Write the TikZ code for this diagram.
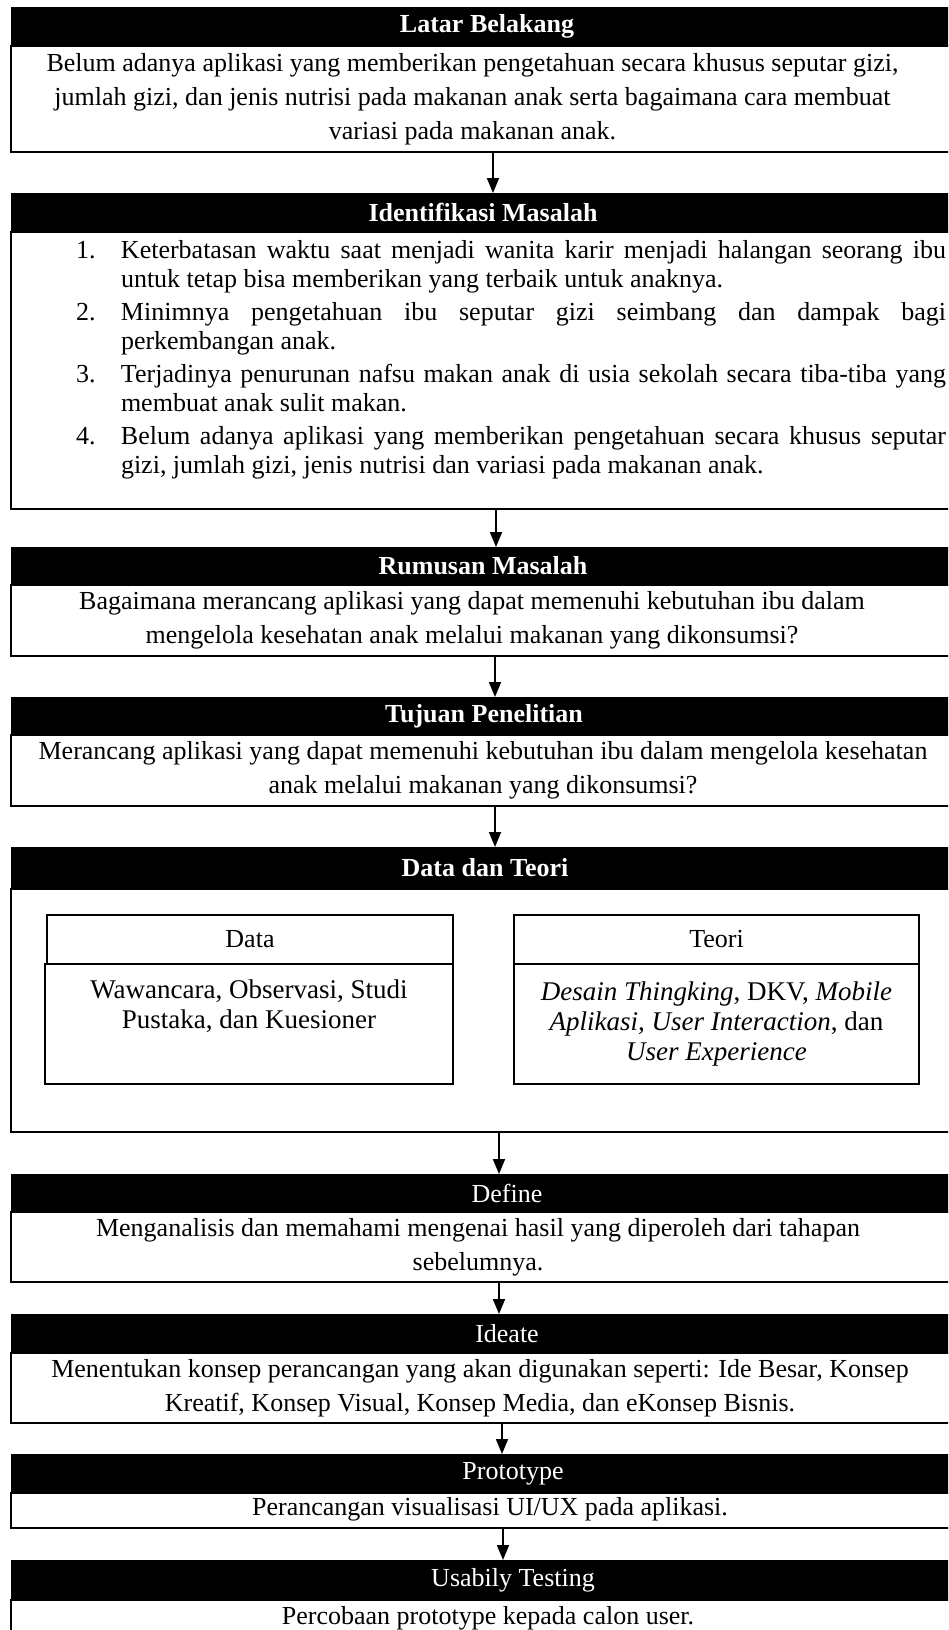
\documentclass[tikz,border=0pt]{standalone}
\usepackage{fontspec}
\setmainfont{Liberation Serif}
\usetikzlibrary{positioning}
\usetikzlibrary{arrows.meta}

\hyphenpenalty=10000
\newcommand{\bodyfont}{\fontsize{26}{34}\selectfont}
\newcommand{\numitem}[2]{\noindent\hangindent=45pt\hangafter=1\makebox[45pt][l]{#1.}#2\par}

\begin{document}
\begin{tikzpicture}[
            x = 1pt, y = -1pt, % one unit = one pixel of the sketch
            > = {Triangle[width=12pt,length=15pt]}, % arrow head style
            line width = 1.2pt,
            font = \bodyfont
        ]

        \tikzstyle{head}=[
            fill = black,
            text = white,
            inner sep = 0pt,
            outer sep = 0pt,
            minimum height = 39pt,
            font = \bodyfont
        ]
        \tikzstyle{strong}=[font = \bodyfont\bfseries]
        \tikzstyle{panel}=[
            draw,
            align = center,
            inner sep = 0pt,
            outer sep = 0pt,
            font = \bodyfont
        ]
        \tikzstyle{words}=[align = center, inner sep = 0pt, font = \bodyfont]
        \tikzstyle{heavy}=[line width = 1.8pt]
        \tikzstyle{flow}=[->, line width = 1.8pt]

        \useasboundingbox (0,0) rectangle (948,1630);
        \clip (0,0) rectangle (948,1630);

        % latar belakang
        \node[head, strong, minimum width = 952pt, anchor = north west] (LBh) at (11,7) {Latar Belakang};
        \node[panel, heavy, minimum width = 950pt, minimum height = 106pt, below right = 0pt and 0pt of LBh.south west] (LB) {};
        \node[words, font = \fontsize{26}{34}\selectfont] (LBt) at ([xshift=-13.5pt]LB.center)
              {Belum adanya aplikasi yang memberikan pengetahuan secara khusus seputar gizi,\\
               jumlah gizi, dan jenis nutrisi pada makanan anak serta bagaimana cara membuat\\
               variasi pada makanan anak.};

        % identifikasi masalah
        \node[head, strong, minimum width = 944pt, below right = 41pt and 0pt of LB.south west] (IMh) {Identifikasi Masalah};
        \node[panel, heavy, align = justify, text width = 870pt, minimum width = 1000pt, minimum height = 277pt,
              font = \fontsize{26}{29}\selectfont,
              below right = 0pt and 0pt of IMh.south west] (IM) {%
            \parskip=4pt
            \numitem{1}{Keterbatasan waktu saat menjadi wanita karir menjadi halangan seorang ibu \linebreak untuk tetap bisa memberikan yang terbaik untuk anaknya.}
            \numitem{2}{Minimnya pengetahuan ibu seputar gizi seimbang dan dampak bagi \linebreak perkembangan anak.}
            \numitem{3}{Terjadinya penurunan nafsu makan anak di usia sekolah secara tiba-tiba yang \linebreak membuat anak sulit makan.}
            \numitem{4}{Belum adanya aplikasi yang memberikan pengetahuan secara khusus seputar \linebreak gizi, jumlah gizi, jenis nutrisi dan variasi pada makanan anak.}
            \vspace*{21pt}\hrule height 0pt};

        % rumusan masalah
        \node[head, strong, minimum width = 944pt, minimum height = 38pt, below right = 38pt and 0pt of IM.south west] (RMh) {Rumusan Masalah};
        \node[panel, minimum width = 950pt, minimum height = 71pt, below right = 0pt and 0pt of RMh.south west] (RM) {};
        \node[words] (RMt) at ([xshift=-14pt]RM.center)
              {Bagaimana merancang aplikasi yang dapat memenuhi kebutuhan ibu dalam\\
               mengelola kesehatan anak melalui makanan yang dikonsumsi?};

        % tujuan penelitian
        \node[head, strong, minimum width = 946pt, minimum height = 38pt, below right = 41pt and 0pt of RM.south west] (TPh) {Tujuan Penelitian};
        \node[panel, heavy, minimum width = 950pt, minimum height = 71pt, below right = 0pt and 0pt of TPh.south west] (TP) {};
        \node[words] (TPt) at ([xshift=-3pt]TP.center)
              {Merancang aplikasi yang dapat memenuhi kebutuhan ibu dalam mengelola kesehatan\\
               anak melalui makanan yang dikonsumsi?};

        % data dan teori
        \node[head, strong, minimum width = 948pt, minimum height = 42pt, below right = 41pt and 0pt of TP.south west] (DTh) {Data dan Teori};
        \node[panel, minimum width = 950pt, minimum height = 243pt, below right = 0pt and 0pt of DTh.south west] (DT) {};

        \node[panel, heavy, minimum width = 406pt, minimum height = 49pt, below right = 26pt and 36pt of DT.north west] (Dh) {Data};
        \node[panel, heavy, minimum width = 408pt, minimum height = 120pt, font = \fontsize{27}{30}\selectfont,
              below right = 0pt and -2pt of Dh.south west] (D)
              {Wawancara, Observasi, Studi\\ Pustaka, dan Kuesioner\\ \strut};
        \node[panel, heavy, minimum width = 405pt, minimum height = 49pt, right = 61pt of Dh] (Th) {Teori};
        \node[panel, heavy, minimum width = 405pt, minimum height = 120pt, font = \fontsize{27}{30}\selectfont,
              below = 0pt of Th] (T)
              {\textit{Desain Thingking}, DKV, \textit{Mobile}\\
               \textit{Aplikasi, User Interaction}, dan\\
               \textit{User Experience}};

        % define
        \node[head, minimum width = 992pt, minimum height = 38pt, below right = 42pt and 0pt of DT.south west] (DFh) {Define};
        \node[panel, minimum width = 950pt, minimum height = 70pt, below right = 0pt and 0pt of DFh.south west] (DF) {};
        \node[words] (DFt) at ([xshift=-8pt]DF.center)
              {Menganalisis dan memahami mengenai hasil yang diperoleh dari tahapan\\ sebelumnya.};

        % ideate
        \node[head, minimum width = 992pt, below right = 32pt and 0pt of DF.south west] (IDh) {Ideate};
        \node[panel, minimum width = 950pt, minimum height = 70pt, below right = 0pt and 0pt of IDh.south west] (ID) {};
        \node[words] (IDt) at ([xshift=-6pt]ID.center)
              {Menentukan konsep perancangan yang akan digunakan seperti: Ide Besar, Konsep\\
               Kreatif, Konsep Visual, Konsep Media, dan eKonsep Bisnis.};

        % prototype
        \node[head, minimum width = 1004pt, below right = 31pt and 0pt of ID.south west] (PRh) {Prototype};
        \node[panel, minimum width = 958pt, minimum height = 35pt, below right = 0pt and 0pt of PRh.south west] (PR) {};
        \node[words] (PRt) at ([yshift=1.5pt]PR.center) {Perancangan visualisasi UI/UX pada aplikasi.};

        % usabily testing
        \node[head, minimum width = 1004pt, minimum height = 40pt, below right = 32pt and 0pt of PR.south west] (UTh) {Usabily Testing};
        \node[panel, minimum width = 954pt, minimum height = 36pt, below right = 0pt and 0pt of UTh.south west] (UT) {};
        \node[words] (UTt) at (UT.center) {Percobaan prototype kepada calon user.};

        % arrows between the stages
        \draw[flow] (LB.south -| 493,0) -- (IMh.north -| 493,0);
        \draw[flow] (IM.south -| 496,0) -- (RMh.north -| 496,0);
        \draw[flow] (RM.south -| 495,0) -- (TPh.north -| 495,0);
        \draw[flow] (TP.south -| 495,0) -- (DTh.north -| 495,0);
        \draw[flow] (DT.south -| 499,0) -- (DFh.north -| 499,0);
        \draw[flow] (DF.south -| 499,0) -- (IDh.north -| 499,0);
        \draw[flow] (ID.south -| 502,0) -- (PRh.north -| 502,0);
        \draw[flow] (PR.south -| 503,0) -- (UTh.north -| 503,0);

\end{tikzpicture}
\end{document}
